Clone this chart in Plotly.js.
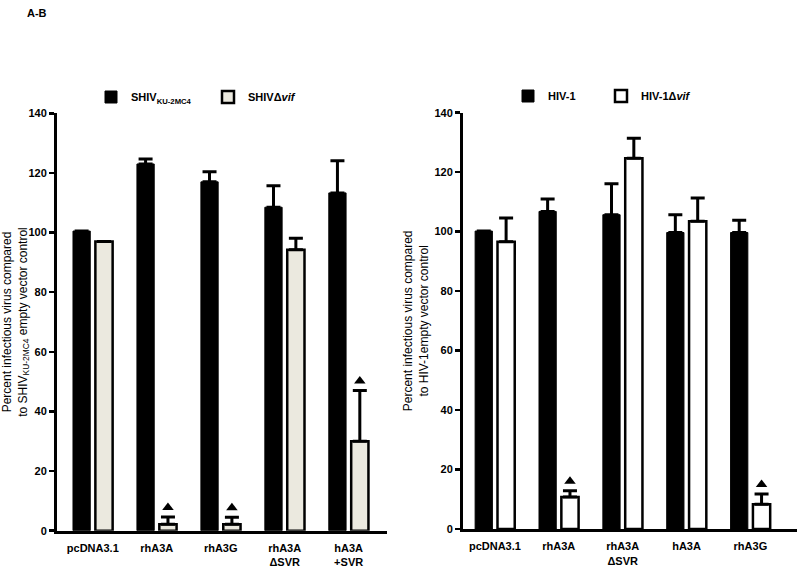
<!DOCTYPE html>
<html>
<head>
<meta charset="utf-8">
<script src="https://cdn.plot.ly/plotly-3.0.1.min.js"></script>
<style>html,body{margin:0;padding:0;background:#fff}</style>
</head>
<body>
<div id="myDiv" style="width:800px;height:568px"></div>
<script>
// panel A: SHIV
var shivCats = ['pcDNA3.1', 'rhA3A', 'rhA3G', 'rhA3A<br>ΔSVR', 'hA3A<br>+SVR'];
var shivWt = [100.5, 123, 117, 108.5, 113.3];
var shivWtErr = [0, 1.7, 3.4, 7.2, 10.8];
var shivDvif = [97, 2.2, 2.2, 94.2, 30];
var shivDvifErr = [0, 2.4, 2.3, 3.9, 17];
var shivSig = [false, true, true, false, true];

// panel B: HIV-1
var hivCats = ['pcDNA3.1', 'rhA3A', 'rhA3A<br>ΔSVR', 'hA3A', 'rhA3G'];
var hivWt = [100.2, 106.8, 105.7, 99.7, 99.7];
var hivWtErr = [0, 4.2, 10.4, 6, 4.1];
var hivDvif = [96.6, 10.8, 124.7, 103.5, 8.3];
var hivDvifErr = [8, 2.1, 6.7, 7.8, 3.5];
var hivSig = [false, true, false, false, true];

var BW = 0.27, OFF1 = -0.31, OFF2 = 0.04;

function idx(a) { return a.map(function (_, i) { return i; }); }
function zeros(a) { return a.map(function () { return 0; }); }
function errY(e) {
  return {type: 'data', symmetric: false, array: e, arrayminus: zeros(e),
          color: '#000', thickness: 3, width: 7};
}
function sigTrace(vals, errs, sig, xa, ya) {
  var x = [], y = [];
  sig.forEach(function (s, i) {
    if (s) { x.push(i + OFF2 + BW / 2); y.push(vals[i] + errs[i] + 3.2); }
  });
  return {x: x, y: y, xaxis: xa, yaxis: ya, type: 'scatter', mode: 'markers',
          marker: {symbol: 'triangle-up', size: 10, color: '#000'},
          showlegend: false, hoverinfo: 'skip'};
}

var data = [
  {x: idx(shivCats), y: shivWt, name: 'SHIV<sub>KU-2MC4</sub>', type: 'bar',
   offset: OFF1, width: BW, marker: {color: '#000', line: {color: '#000', width: 1}},
   error_y: errY(shivWtErr), xaxis: 'x', yaxis: 'y', legend: 'legend'},
  {x: idx(shivCats), y: shivDvif, name: 'SHIVΔ<i>vif</i>', type: 'bar',
   offset: OFF2, width: BW, marker: {color: '#ebe9df', line: {color: '#000', width: 2.5}},
   error_y: errY(shivDvifErr), xaxis: 'x', yaxis: 'y', legend: 'legend'},
  sigTrace(shivDvif, shivDvifErr, shivSig, 'x', 'y'),
  {x: idx(hivCats), y: hivWt, name: 'HIV-1', type: 'bar',
   offset: OFF1, width: BW, marker: {color: '#000', line: {color: '#000', width: 1}},
   error_y: errY(hivWtErr), xaxis: 'x2', yaxis: 'y2', legend: 'legend2'},
  {x: idx(hivCats), y: hivDvif, name: 'HIV-1Δ<i>vif</i>', type: 'bar',
   offset: OFF2, width: BW, marker: {color: '#fff', line: {color: '#000', width: 2.5}},
   error_y: errY(hivDvifErr), xaxis: 'x2', yaxis: 'y2', legend: 'legend2'},
  sigTrace(hivDvif, hivDvifErr, hivSig, 'x2', 'y2')
];

var tickFont = {family: 'Liberation Sans, Arial, sans-serif', size: 11, color: '#000', weight: 'bold'};

function xAxis(cats, dom, rng, anchor) {
  return {domain: dom, range: rng, anchor: anchor, tickvals: idx(cats), ticktext: cats,
          ticks: '', showline: true, linewidth: 3, linecolor: '#000',
          showgrid: false, zeroline: false, tickfont: tickFont, ticklabelstandoff: 5,
          fixedrange: true};
}
function yAxis(dom, anchor, title) {
  return {domain: dom, range: [0, 140], anchor: anchor, dtick: 20,
          ticks: 'outside', ticklen: 5, tickwidth: 2.5, tickcolor: '#000',
          showline: true, linewidth: 3, linecolor: '#000',
          showgrid: false, zeroline: false, tickfont: tickFont,
          title: {text: title, standoff: 4,
                  font: {family: 'Liberation Sans, Arial, sans-serif', size: 12, color: '#000'}}};
}

var legendFont = {family: 'Liberation Sans, Arial, sans-serif', size: 11, color: '#000', weight: 'bold'};

var layout = {
  width: 800, height: 568,
  margin: {l: 0, r: 0, t: 0, b: 0},
  paper_bgcolor: '#fff', plot_bgcolor: 'rgba(0,0,0,0)',
  barmode: 'overlay',
  font: {family: 'Liberation Sans, Arial, sans-serif', color: '#000'},
  xaxis: xAxis(shivCats, [57 / 800, 387 / 800], [-0.56, 4.6], 'y'),
  yaxis: yAxis([1 - 530.7 / 568, 1 - 113.3 / 568], 'x',
               'Percent infectious virus compared<br>to SHIV<sub>KU-2MC4</sub> empty vector control'),
  xaxis2: xAxis(hivCats, [463 / 800, 797 / 800], [-0.5, 4.73], 'y2'),
  yaxis2: yAxis([1 - 529 / 568, 1 - 112.7 / 568], 'x2',
                'Percent infectious virus compared<br>to HIV-1empty vector control'),
  legend: {orientation: 'h', x: 91 / 800, xanchor: 'left', y: 1 - 97 / 568, yanchor: 'middle',
           entrywidth: 72, font: legendFont, bgcolor: 'rgba(0,0,0,0)'},
  legend2: {orientation: 'h', x: 508 / 800, xanchor: 'left', y: 1 - 96 / 568, yanchor: 'middle',
            entrywidth: 48, font: legendFont, bgcolor: 'rgba(0,0,0,0)'},
  annotations: [
    {text: 'A-B', xref: 'paper', yref: 'paper', x: 25 / 800, y: 1 - 13 / 568,
     xanchor: 'left', yanchor: 'middle', showarrow: false,
     font: {family: 'Liberation Sans, Arial, sans-serif', size: 11, color: '#000', weight: 'bold'}}
  ]
};

Plotly.newPlot('myDiv', data, layout, {displayModeBar: false, staticPlot: true});
</script>
</body>
</html>
